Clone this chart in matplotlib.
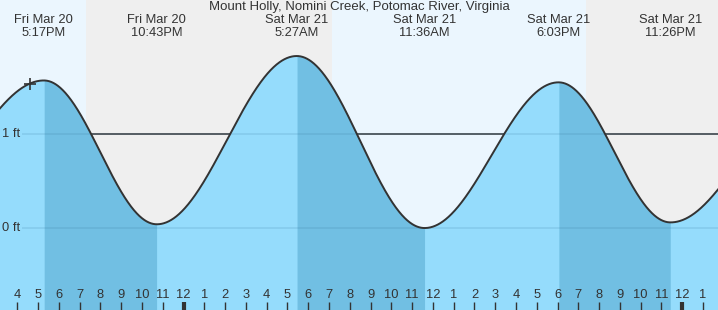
import numpy as np
import matplotlib
matplotlib.use("Agg")
import matplotlib.pyplot as plt
from matplotlib.transforms import blended_transform_factory

plt.rcParams['font.family'] = ['Liberation Sans', 'DejaVu Sans']

# ---- data (hours since Fri Mar 20 00:00) ----
title = "Mount Holly, Nomini Creek, Potomac River, Virginia"
extreme_hours = [10.9, 17.283, 22.717, 29.45, 35.6, 42.05, 47.433, 53.7]
extreme_feet = [0.37, 1.57, 0.04, 1.83, 0.00, 1.55, 0.06, 1.25]
extreme_kind = ["low", "high", "low", "high", "low", "high", "low", "high"]
label_dates = ["", "Fri Mar 20", "Fri Mar 20", "Sat Mar 21", "Sat Mar 21", "Sat Mar 21", "Sat Mar 21", ""]
label_times = ["", "5:17PM", "10:43PM", "5:27AM", "11:36AM", "6:03PM", "11:26PM", ""]
sun_events = [19.31, 31.15, 43.37]  # sunset, sunrise, sunset
now_hour = 16.6
hour_ticks = list(range(16, 50))
hour_labels = [str((h - 1) % 12 + 1) for h in hour_ticks]
ft_ticks = [0, 1]
ft_labels = ["0 ft", "1 ft"]
ref_line_ft = 1

# ---- geometry ----
W, H = 718, 310
xmin, xmax = 15.17, 49.72
ymin, ymax = -0.872, 2.426

day_c = '#ebf6fe'
night_c = '#efefef'
light_fill = '#95dcfc'
dark_fill = '#71bfe3'
ink = '#333333'

fig = plt.figure(figsize=(W / 100, H / 100), dpi=100)
ax = fig.add_axes([0, 0, 1, 1])
ax.set_xlim(xmin, xmax)
ax.set_ylim(ymin, ymax)
for s in ax.spines.values():
    s.set_visible(False)

# day / night background
bounds = [xmin] + sun_events + [xmax]
for i in range(len(bounds) - 1):
    ax.axvspan(bounds[i], bounds[i + 1], color=day_c if i % 2 == 0 else night_c, lw=0, zorder=0)

# tide curve: cosine rendering between successive extremes
t = np.linspace(xmin, xmax, 2000)
et = np.array(extreme_hours)
ef = np.array(extreme_feet)
idx = np.clip(np.searchsorted(et, t) - 1, 0, len(et) - 2)
ph = (t - et[idx]) / (et[idx + 1] - et[idx])
h = ef[idx] + (ef[idx + 1] - ef[idx]) * (1 - np.cos(np.pi * ph)) / 2

# 1 ft reference line (behind fill)
x_lab_end = xmin + 22 / W * (xmax - xmin)
ax.hlines(ref_line_ft, x_lab_end, xmax, color=ink, lw=1.1, zorder=1)

ax.fill_between(t, h, ymin, color=light_fill, lw=0, zorder=2)
for i in range(len(et) - 1):
    if extreme_kind[i] == "high":
        m = (t >= et[i]) & (t <= et[i + 1])
        ax.fill_between(t[m], h[m], ymin, color=dark_fill, lw=0, zorder=3)

# faint grid lines over the fill
for f in ft_ticks:
    ax.hlines(f, x_lab_end, xmax, color=(0.2, 0.45, 0.6, 0.18), lw=1.1, zorder=4)

ax.plot(t, h, color=ink, lw=1.4, zorder=5)

# current time marker
hn = np.interp(now_hour, t, h)
ax.plot([now_hour], [hn], marker='+', ms=9, mew=1.2, color=ink, zorder=6)

# y labels
for f, lab in zip(ft_ticks, ft_labels):
    ax.text(xmin + 2 / W * (xmax - xmin), f, lab, ha='left', va='center',
            fontsize=9.3, color=ink, zorder=7)

# hour ticks
tr = blended_transform_factory(ax.transData, ax.transAxes)
ax.set_yticks([])
ax.set_xticks([h_ for h_ in hour_ticks if h_ % 24 != 0])
ax.set_xticklabels([])
ax.set_xticks([h_ for h_ in hour_ticks if h_ % 24 == 0], minor=True)
ax.tick_params(axis='x', which='major', direction='in', length=6, width=1.0, color=ink)
ax.tick_params(axis='x', which='minor', direction='in', length=6, width=3.0, color=ink)
ax.xaxis.set_zorder(8)
for h_, lab in zip(hour_ticks, hour_labels):
    ax.text(h_, 14.5 / H, lab, transform=tr, ha='center', va='center',
            fontsize=9.3, color=ink, zorder=7)

# extreme labels
for et_, d, tm in zip(extreme_hours, label_dates, label_times):
    if d and xmin < et_ < xmax:
        ax.text(et_, 1 - 19.7 / H, d, transform=tr, ha='center', va='center', fontsize=9.3, color=ink)
        ax.text(et_, 1 - 32.5 / H, tm, transform=tr, ha='center', va='center', fontsize=9.3, color=ink)

fig.text(0.5, 1 - 7 / H, title, ha='center', va='center', fontsize=9.5, color=ink)

fig.savefig("out.png", dpi=100)
